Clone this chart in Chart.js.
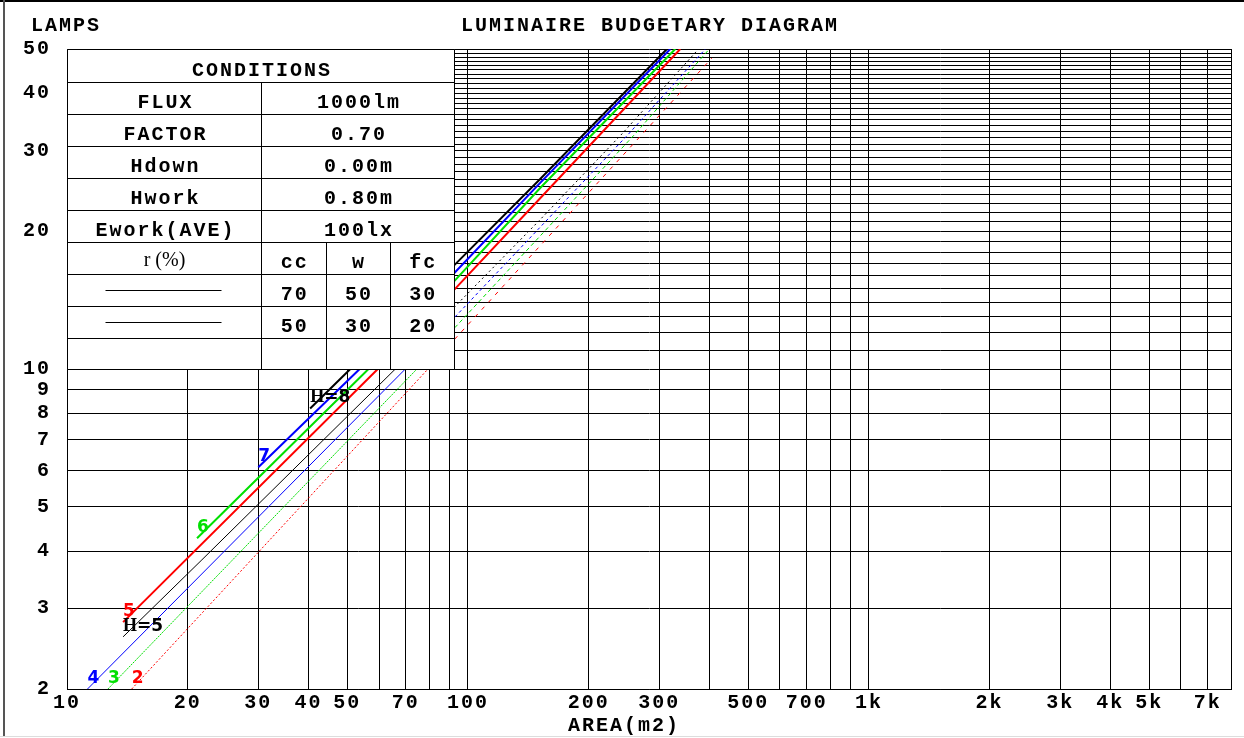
<!DOCTYPE html>
<html>
<head>
<meta charset="utf-8">
<script src="https://cdn.jsdelivr.net/npm/chart.js@4"></script>
<style>
  html, body { margin: 0; padding: 0; background: #fff; overflow: hidden; }
  canvas { display: block; }
</style>
</head>
<body>
<canvas id="chart" width="1244" height="738"></canvas>
<script>
// axes: grid lines and labelled ticks
const xGridValues = [10, 20, 30, 40, 50, 60, 70, 80, 90, 100, 200, 300, 400, 500, 600, 700, 800, 900,
  1000, 2000, 3000, 4000, 5000, 6000, 7000, 8000];
const xLabelValues = [10, 20, 30, 40, 50, 70, 100, 200, 300, 500, 700, 1000, 2000, 3000, 4000, 5000, 7000];
const xLabelTexts = ['10', '20', '30', '40', '50', '70', '100', '200', '300', '500', '700', '1k', '2k', '3k', '4k', '5k', '7k'];
const yGridValues = [2, 3, 4, 5, 6, 7, 8, 9, 10, 11, 12, 13, 14, 15, 16, 17, 18, 19, 20, 21, 22, 23, 24, 25, 26,
  27, 28, 29, 30, 31, 32, 33, 34, 35, 36, 37, 38, 39, 40, 41, 42, 43, 44, 45, 46, 47, 48, 49, 50];
const yLabelValues = [2, 3, 4, 5, 6, 7, 8, 9, 10, 20, 30, 40, 50];

// curves (area m2 -> lamps)
const lineLabels = ['H=8', '7', '6', '5', 'H=5', '4', '3', '2'];
const area1 = [40.4, 50.9, 92.1, 151.4, 313.5];
const lamps1 = [8.2, 10, 16.8, 26.0, 50];
const area2 = [30.0, 53.7, 92.1, 151.4, 319.6];
const lamps2 = [6.1, 10, 16.15, 25.5, 50];
const area3 = [21.1, 56.5, 92.1, 151.4, 328.9];
const lamps3 = [4.27, 10, 15.5, 24.85, 50];
const area4 = [13.8, 59.6, 92.1, 151.4, 338.5];
const lamps4 = [2.8, 10, 14.85, 23.6, 50];
const area5 = [13.8, 21.7, 65.9, 92.1, 151.4, 242, 376];
const lamps5 = [2.6, 3.83, 10, 13.6, 21.2, 32.6, 50];
const area6 = [11.25, 69.8, 92.1, 251.5, 391];
const lamps6 = [2, 10, 12.9, 32.6, 50];
const area7 = [12.65, 74.6, 92.1, 261, 400];
const lamps7 = [2, 10, 12.23, 32.6, 50];
const area8 = [14.5, 79.5, 92.1, 406];
const lamps8 = [2, 10, 11.55, 47.8];
const areas = [area1, area2, area3, area4, area5, area6, area7, area8];
const lampsList = [lamps1, lamps2, lamps3, lamps4, lamps5, lamps6, lamps7, lamps8];

// conditions table
const condNames = ['FLUX', 'FACTOR', 'Hdown', 'Hwork', 'Ework(AVE)'];
const condValues = ['1000lm', '0.70', '0.00m', '0.80m', '100lx'];
const reflHeads = ['cc', 'w', 'fc'];
const refl1 = ['70', '50', '30'];
const refl2 = ['50', '30', '20'];

// styles
const lineColors = ['#000000', '#0000ff', '#00e000', '#ff0000', '#000000', '#0000ff', '#00e000', '#ff0000'];
const lineWidths = [2, 2, 2, 2, 1, 1, 1, 1];
const lowerDash = [[], [], [], [], [], [], [2, 1], [2, 2]];
const upperDash = [[], [], [], [], [2, 3], [3, 3], [4, 3], [4, 6]];

const MONO = '"Liberation Mono", monospace';
const SPACING = 2;

function monoText(c, text, x, y, align) {
  c.font = 'bold 20px ' + MONO;
  c.letterSpacing = SPACING + 'px';
  c.textAlign = align || 'center';
  c.textBaseline = 'alphabetic';
  c.fillText(text, align === 'left' ? x : x + SPACING / 2, y);
}

// draws the "H" of H=.. with a serif face, the rest in sans
function curveLabel(c, text, x, y) {
  const sans = 'bold 17px "DejaVu Sans", sans-serif';
  if (text.startsWith('H')) {
    c.font = 'bold 18px "Liberation Serif", serif';
    c.fillText('H', x, y);
    const w = c.measureText('H').width;
    c.font = sans;
    c.fillText(text.slice(1), x + w, y);
  } else {
    c.font = sans;
    c.fillText(text, x, y);
  }
}

const frame = {
  id: 'frame',
  beforeDraw(chart) {
    const c = chart.ctx;
    c.save();
    c.fillStyle = '#fff';
    c.fillRect(0, 0, chart.width, chart.height);
    c.strokeStyle = '#000';
    c.lineWidth = 2;
    c.beginPath(); c.moveTo(0, 1); c.lineTo(chart.width, 1); c.stroke();
    c.strokeStyle = '#555';
    c.beginPath(); c.moveTo(4, 0); c.lineTo(4, 737); c.stroke();
    c.strokeStyle = '#ddd';
    c.lineWidth = 1;
    c.beginPath(); c.moveTo(0, 736.5); c.lineTo(chart.width, 736.5); c.stroke();
    c.restore();
    c.letterSpacing = SPACING + 'px';
  },
  afterDraw(chart) {
    const c = chart.ctx;
    const xs = chart.scales.x, ys = chart.scales.y;
    const area = chart.chartArea;
    c.save();
    c.fillStyle = '#000';
    monoText(c, 'LAMPS', 31, 31, 'left');
    monoText(c, 'LUMINAIRE BUDGETARY DIAGRAM', (area.left + area.right) / 2, 31);
    monoText(c, 'AREA(m2)', 623, 731);

    // curve labels at the start of each line
    c.letterSpacing = '0px';
    c.textAlign = 'left';
    c.textBaseline = 'alphabetic';
    lineLabels.forEach((lab, i) => {
      c.fillStyle = lineColors[i];
      curveLabel(c, lab, xs.getPixelForValue(areas[i][0]), ys.getPixelForValue(lampsList[i][0]) - 6);
    });

    // conditions table over the upper-left corner
    const L = Math.round(area.left) + 0.5;
    const T = Math.round(area.top) + 0.5;
    const B = Math.round(ys.getPixelForValue(10)) + 0.5;
    const W = 387;
    const R = L + W;
    const rowH = (B - T) / 10;
    const c0 = Math.round(L + W / 2) + 0.5;
    const cw = (R - c0) / 3;
    c.fillStyle = '#fff';
    c.fillRect(L, T, W, B - T);
    c.strokeStyle = '#000';
    c.lineWidth = 1;
    c.beginPath();
    c.rect(L, T, W, B - T);
    for (let k = 1; k < 10; k++) {
      const y = Math.round(T + k * rowH) + 0.5;
      c.moveTo(L, y); c.lineTo(R, y);
    }
    c.moveTo(c0, Math.round(T + rowH) + 0.5); c.lineTo(c0, B);
    for (let k = 1; k < 3; k++) {
      const x = Math.round(c0 + k * cw) + 0.5;
      c.moveTo(x, Math.round(T + 6 * rowH) + 0.5); c.lineTo(x, B);
    }
    c.stroke();

    c.fillStyle = '#000';
    const rowBase = (r) => T + r * rowH + 26;
    const col0Mid = (L + c0) / 2;
    const valMid = (c0 + R) / 2;
    monoText(c, 'CONDITIONS', (L + R) / 2, rowBase(0));
    condNames.forEach((n, i) => {
      monoText(c, n, col0Mid, rowBase(i + 1));
      monoText(c, condValues[i], valMid, rowBase(i + 1));
    });
    c.letterSpacing = '0px';
    c.font = '20px "Liberation Serif", serif';
    c.textAlign = 'center';
    c.fillText('r (%)', col0Mid, T + 6 * rowH + 24);
    reflHeads.forEach((h, j) => monoText(c, h, c0 + (j + 0.5) * cw, rowBase(6)));
    [refl1, refl2].forEach((vals, r) => {
      const yMid = Math.round(T + (7 + r + 0.5) * rowH) + 0.5;
      c.beginPath();
      c.moveTo(L + 38, yMid); c.lineTo(L + 154, yMid);
      c.stroke();
      vals.forEach((v, j) => monoText(c, v, c0 + (j + 0.5) * cw, rowBase(7 + r)));
    });
    c.restore();
  }
};

const tickFont = { family: MONO, size: 20, weight: 'bold' };

new Chart(document.getElementById('chart').getContext('2d'), {
  type: 'line',
  data: {
    datasets: lineLabels.map((lab, i) => ({
      label: lab,
      data: areas[i].map((a, j) => ({ x: a, y: lampsList[i][j] })),
      borderColor: lineColors[i],
      borderWidth: lineWidths[i],
      pointRadius: 0,
      fill: false,
      tension: 0,
      segment: {
        borderDash: (ctx) => (ctx.p0.parsed.y < 10 ? lowerDash[i] : upperDash[i])
      }
    }))
  },
  options: {
    responsive: false,
    animation: false,
    devicePixelRatio: 1,
    parsing: false,
    layout: { padding: { top: 49, right: 13, left: 0, bottom: 0 } },
    plugins: { legend: { display: false }, tooltip: { enabled: false } },
    scales: {
      x: {
        type: 'logarithmic',
        min: 10,
        max: 8000,
        afterBuildTicks: (s) => { s.ticks = xGridValues.map(v => ({ value: v })); },
        afterFit: (s) => { s.height = 49; },
        ticks: {
          autoSkip: false,
          maxRotation: 0,
          padding: 2,
          color: '#000',
          font: tickFont,
          callback: (v) => {
            const k = xLabelValues.indexOf(v);
            return k >= 0 ? xLabelTexts[k] : '';
          }
        },
        grid: { color: '#000', lineWidth: 1, drawTicks: false },
        border: { color: '#000', width: 1 }
      },
      y: {
        type: 'logarithmic',
        min: 2,
        max: 50,
        afterBuildTicks: (s) => { s.ticks = yGridValues.map(v => ({ value: v })); },
        afterFit: (s) => { s.width = 67; },
        ticks: {
          autoSkip: false,
          padding: 16,
          color: '#000',
          font: tickFont,
          callback: (v) => (yLabelValues.includes(v) ? String(v) : '')
        },
        grid: { color: '#000', lineWidth: 1, drawTicks: false },
        border: { color: '#000', width: 1 }
      }
    }
  },
  plugins: [frame]
});
</script>
</body>
</html>
